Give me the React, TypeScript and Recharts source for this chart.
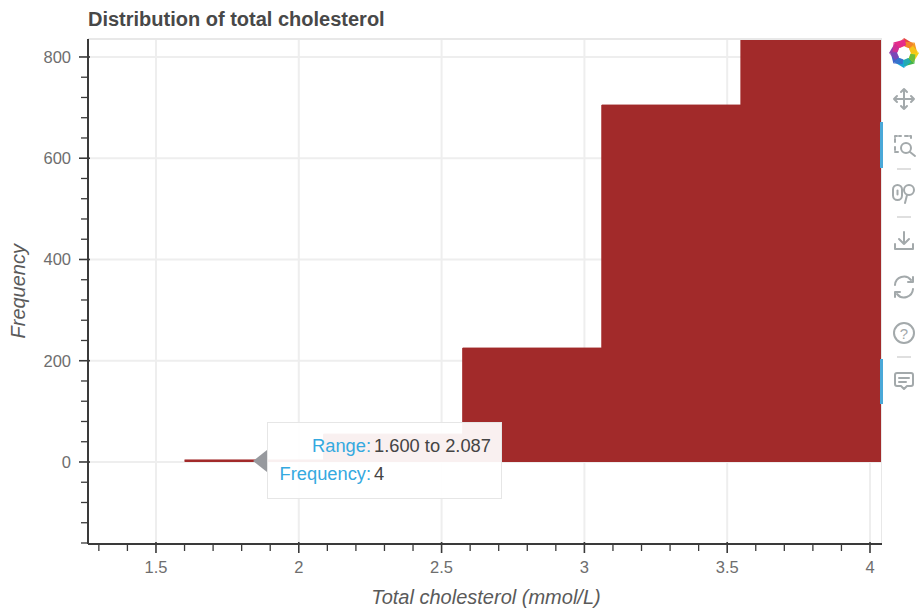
import { ComposedChart, Area, XAxis, YAxis, CartesianGrid, ReferenceLine } from "recharts";

// left edge of each bin, the last one only closes the bin before it
const binEdges = [1.6, 2.087, 2.574, 3.061, 3.548, 4.035, 4.522];
const frequencies = [4, 55, 225, 705, 1180, 1500, 1500];

const xMajorTicks = [1.5, 2, 2.5, 3, 3.5, 4];
const xMinorTicks = [1.3, 1.4, 1.6, 1.7, 1.8, 1.9, 2.1, 2.2, 2.3, 2.4, 2.6, 2.7, 2.8, 2.9, 3.1, 3.2, 3.3, 3.4, 3.6, 3.7, 3.8, 3.9];
const yMajorTicks = [0, 200, 400, 600, 800];
const yMinorTicks = [-160, -120, -80, -40, 40, 80, 120, 160, 240, 280, 320, 360, 440, 480, 520, 560, 640, 680, 720, 760];

const X_DOMAIN: [number, number] = [1.262, 4.042];
const Y_DOMAIN: [number, number] = [-162, 835.5];

const tooltipRows = [
  { label: "Range:", value: "1.600 to 2.087" },
  { label: "Frequency:", value: "4" },
];

const BROWN = "#a22a2a";
const AXIS = "#3a3a3a";
const TEXT = "#6e6e6e";
const GRID = "#eeeeee";
const ICON = "#a3a9ab";
const FONT = "'Liberation Sans', Arial, sans-serif";

const chartData = binEdges.map((edge, i) => ({ edge, frequency: frequencies[i] }));

function XTick({ x, y, payload }: any) {
  const major = xMajorTicks.includes(payload.value);
  return (
    <g>
      <line x1={x} x2={x} y1={major ? y - 2 : y} y2={y + (major ? 9 : 7)} stroke={AXIS} strokeWidth={major ? 1.6 : 1.3} />
      {major && (
        <text x={x} y={y + 29} textAnchor="middle" fontSize={16.5} fontFamily={FONT} fill={TEXT}>
          {payload.value}
        </text>
      )}
    </g>
  );
}

function YTick({ x, y, payload }: any) {
  const major = yMajorTicks.includes(payload.value);
  return (
    <g>
      <line x1={x - (major ? 9 : 7)} x2={major ? x + 2 : x} y1={y} y2={y} stroke={AXIS} strokeWidth={major ? 1.6 : 1.3} />
      {major && (
        <text x={x - 17} y={y + 6} textAnchor="end" fontSize={16.5} fontFamily={FONT} fill={TEXT}>
          {payload.value}
        </text>
      )}
    </g>
  );
}

function BokehTooltip() {
  return (
    <>
      <div
        style={{
          position: "absolute",
          left: 267,
          top: 422,
          width: 235,
          height: 77,
          boxSizing: "border-box",
          background: "rgba(255,255,255,0.93)",
          border: "1px solid #e6e6e6",
          fontFamily: FONT,
          fontSize: 18.3,
        }}
      >
        {tooltipRows.map((row, i) => (
          <div key={row.label} style={{ position: "absolute", top: 12 + i * 28, left: 0, height: 22, lineHeight: "22px", whiteSpace: "nowrap" }}>
            <span style={{ position: "absolute", right: -103, color: "#35a9df" }}>{row.label}</span>
            <span style={{ position: "absolute", left: 106, color: "#444" }}>{row.value}</span>
          </div>
        ))}
      </div>
      <svg width={15} height={22} style={{ position: "absolute", left: 253, top: 450 }}>
        <polygon points="0,11 14,0 14,22" fill="#97999e" />
      </svg>
    </>
  );
}

function Toolbar() {
  const logo = ["#e8483f", "#f59a23", "#f7d117", "#42b649", "#19a8d6", "#3f62c9", "#8e3fb0", "#e62b8a"];
  const common = { fill: "none", stroke: ICON, strokeWidth: 2, strokeLinecap: "round" as const, strokeLinejoin: "round" as const };
  return (
    <svg width={50} height={400} style={{ position: "absolute", left: 870, top: 30 }}>
      <g transform="translate(-870,-30)">
        <rect x={880} y={122} width={3} height={46} fill="#4aa8d8" />
        <rect x={880} y={359} width={3} height={45} fill="#4aa8d8" />
        {logo.map((color, i) => (
          <g key={color} transform={`rotate(${i * 45} 904 53)`}>
            <path d="M904 38 L914 44 L911 49 L904 46 Z" fill={color} />
            <path d="M904 38 L897 44 L900 48 L904 46 Z" fill={color} opacity={0.75} />
          </g>
        ))}
        <path d="M904 89V109M894 99H914M904 89l-3 3M904 89l3 3M904 109l-3-3M904 109l3-3M894 99l3-3M894 99l3 3M914 99l-3-3M914 99l-3 3" {...common} />
        <path d="M895 142v-6h6M905 136h6v3M895 147v5h5" {...common} strokeDasharray="3 2" />
        <circle cx={906} cy={148} r={5} {...common} />
        <path d="M910 152l5 4" {...common} />
        <path d="M897 169h14" stroke="#d5d5d5" strokeWidth={1.5} />
        <rect x={893} y={185} width={9} height={15} rx={4.5} {...common} />
        <rect x={896.5} y={189.5} width={2} height={6} rx={1} fill={ICON} />
        <circle cx={909} cy={190} r={5} {...common} />
        <path d="M907 195l-2 8" {...common} />
        <path d="M897 217h14" stroke="#d5d5d5" strokeWidth={1.5} />
        <path d="M904 232v12M899 239l5 5 5-5M895 244v5h18v-5" {...common} />
        <path d="M895 285a9 9 0 0 1 16-5M913 277v5h-5M913 289a9 9 0 0 1-16 5M895 297v-5h5" {...common} />
        <circle cx={904} cy={333} r={10} {...common} />
        <text x={904} y={339} textAnchor="middle" fontSize={15} fontFamily={FONT} fill={ICON}>?</text>
        <path d="M897 357h14" stroke="#d5d5d5" strokeWidth={1.5} />
        <path d="M897 373h14a2 2 0 0 1 2 2v9a2 2 0 0 1-2 2h-4l-3 3-3-3h-4a2 2 0 0 1-2-2v-9a2 2 0 0 1 2-2z" {...common} />
        <path d="M899 378h10M899 382h7" {...common} />
      </g>
    </svg>
  );
}

export default function App() {
  return (
    <div style={{ position: "absolute", left: 0, top: 0, width: 920, height: 612, overflow: "hidden", background: "#fff" }}>
      <ComposedChart width={882} height={612} data={chartData} margin={{ top: 39, right: 0, bottom: 0, left: 0 }}>
        <CartesianGrid stroke={GRID} strokeWidth={2} horizontalValues={yMajorTicks} verticalValues={xMajorTicks} syncWithTicks={false} />
        <XAxis
          dataKey="edge"
          type="number"
          domain={X_DOMAIN}
          allowDataOverflow
          ticks={[...xMajorTicks, ...xMinorTicks].sort((a, b) => a - b)}
          interval={0}
          height={68}
          tickSize={0}
          tickMargin={0}
          tickLine={false}
          tick={<XTick />}
          axisLine={{ stroke: AXIS, strokeWidth: 2 }}
          label={{ value: "Total cholesterol (mmol/L)", position: "insideBottom", offset: 8, dx: 1, fontSize: 20, fontStyle: "italic", fontFamily: FONT, fill: "#5a5a5a" }}
        />
        <YAxis
          type="number"
          domain={Y_DOMAIN}
          allowDataOverflow
          ticks={[...yMajorTicks, ...yMinorTicks].sort((a, b) => a - b)}
          interval={0}
          width={88}
          tickSize={0}
          tickMargin={0}
          tickLine={false}
          tick={<YTick />}
          axisLine={{ stroke: AXIS, strokeWidth: 2 }}
          label={{ value: "Frequency", angle: -90, position: "insideLeft", offset: 18, dy: 47, fontSize: 20, fontStyle: "italic", fontFamily: FONT, fill: "#5a5a5a" }}
        />
        <Area
          dataKey="frequency"
          type="stepAfter"
          fill={BROWN}
          fillOpacity={1}
          stroke={BROWN}
          strokeWidth={1}
          dot={false}
          activeDot={false}
          isAnimationActive={false}
        />
        <ReferenceLine y={Y_DOMAIN[1]} stroke="#e8e8e8" strokeWidth={2} />
        <ReferenceLine x={X_DOMAIN[1]} stroke="#e8e8e8" strokeWidth={2} />
      </ComposedChart>
      <div style={{ position: "absolute", left: 88, top: 8, fontFamily: FONT, fontWeight: 700, fontSize: 20, color: "#484848", whiteSpace: "nowrap" }}>
        Distribution of total cholesterol
      </div>
      <BokehTooltip />
      <Toolbar />
    </div>
  );
}
